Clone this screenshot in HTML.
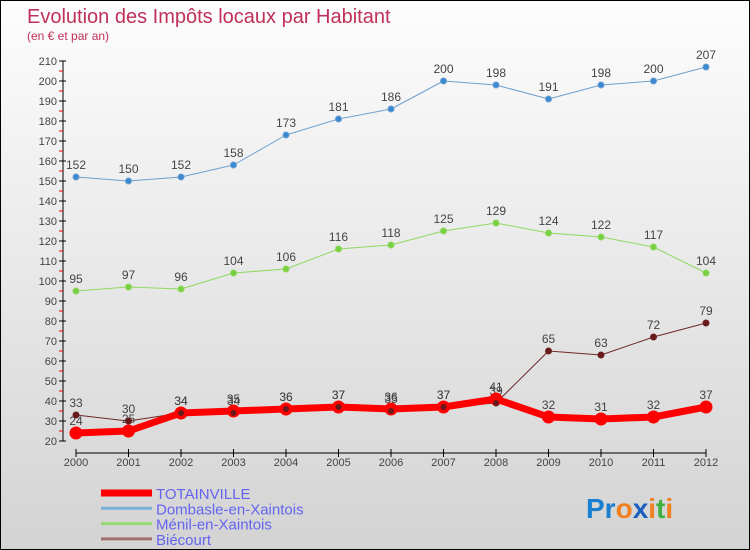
<!DOCTYPE html>
<html><head><meta charset="utf-8">
<style>
body{margin:0;}
#wrap{position:relative;width:748px;height:548px;border:1px solid #000;background:linear-gradient(#fdfdfd,#d3d3d3);overflow:hidden;font-family:"Liberation Sans",sans-serif;}
svg text{font-family:"Liberation Sans",sans-serif;}
</style></head>
<body>
<div id="wrap">
<svg id="chart" width="748" height="548">
<text x="26" y="22" font-size="20" fill="#c0305a">Evolution des Impôts locaux par Habitant</text>
<text x="26" y="39" font-size="12" fill="#c0305a">(en € et par an)</text>
<text x="585" y="517" font-size="28" font-weight="bold"><tspan fill="#1a7fd0">Pr</tspan><tspan fill="#f08020">o</tspan><tspan fill="#1a5fc0">x</tspan><tspan fill="#f08020">i</tspan><tspan fill="#40b040">t</tspan><tspan fill="#f08020">i</tspan></text>
</svg>
</div>
<script>
const years=["2000","2001","2002","2003","2004","2005","2006","2007","2008","2009","2010","2011","2012"];
const yTicks=[20,30,40,50,60,70,80,90,100,110,120,130,140,150,160,170,180,190,200,210];
const totainville=[24,25,34,35,36,37,36,37,41,32,31,32,37];
const dombasle=[152,150,152,158,173,181,186,200,198,191,198,200,207];
const menil=[95,97,96,104,106,116,118,125,129,124,122,117,104];
const biecourt=[33,30,34,34,36,37,35,37,39,65,63,72,79];
const seriesNames=["TOTAINVILLE","Dombasle-en-Xaintois","Ménil-en-Xaintois","Biécourt"];

const svg=document.getElementById('chart');
const NS='http://www.w3.org/2000/svg';
const xS=i=>75+i*52.5;
const yS=v=>60+(210-v)*2;
function mk(tag,attrs,parent){const e=document.createElementNS(NS,tag);for(const k in attrs)e.setAttribute(k,attrs[k]);(parent||svg).appendChild(e);return e;}

// axes
let ax=mk('line',{x1:62,y1:yS(210),x2:62,y2:yS(20),stroke:'#000','stroke-width':1});


let xa=mk('line',{x1:75,y1:452,x2:705,y2:452,stroke:'#000','stroke-width':1});


yTicks.forEach(v=>{
  mk('line',{x1:58,y1:yS(v),x2:65,y2:yS(v),stroke:'#000'});
  if(v<210) mk('line',{x1:58,y1:yS(v+5),x2:62,y2:yS(v+5),stroke:'#e00'});
  const t=mk('text',{x:56,y:yS(v)+4,'font-size':11,'text-anchor':'end',fill:'#444'});
  t.textContent=v;
  
  
});
years.forEach((y,i)=>{
  mk('line',{x1:xS(i),y1:448,x2:xS(i),y2:456,stroke:'#000'});
  const t=mk('text',{x:xS(i),y:465,'font-size':11,'text-anchor':'middle',fill:'#444'});
  t.textContent=y;
  
  
});

function series(data,color,width,r,fill,name){
  const g=mk('g',{});
  
  
  mk('polyline',{points:data.map((v,i)=>xS(i)+','+yS(v)).join(' '),fill:'none',stroke:color,'stroke-width':width,'stroke-linejoin':'round'},g);
  data.forEach((v,i)=>{
    const c=mk('circle',{cx:xS(i),cy:yS(v),r:r,fill:fill,stroke:color,'stroke-width':1},g);
    
    
    const t=mk('text',{x:xS(i),y:yS(v)-8,'font-size':12,'text-anchor':'middle',fill:'#444'},g);
    t.textContent=v;
    
    
  });
}
series(dombasle,'#6ea0d0',1,3,'#3a88d0','series-dombasle');
series(menil,'#90d860',1,3,'#78d040','series-menil');
series(biecourt,'#702828',1,3,'#6a1a1a','series-biecourt');
series(totainville,'#ff0000',7,6,'#ff0000','series-totainville');
// redraw biecourt markers on top
biecourt.forEach((v,i)=>{const c=mk('circle',{cx:xS(i),cy:yS(v),r:3,fill:'#6a1a1a'});
  
  });

// legend
const legColors=['#ff0000','#7ab0d8','#98d870','#a07070'];
const legW=[7,3,3,3];
seriesNames.forEach((n,i)=>{
  const y=492+i*15.3;
  const l=mk('line',{x1:100,y1:y,x2:151,y2:y,stroke:legColors[i],'stroke-width':legW[i]});
  
  
  const t=mk('text',{x:155,y:y+6,'font-size':15,fill:'#6464f0'});
  t.textContent=n;
  
  
});
</script>
</body></html>
